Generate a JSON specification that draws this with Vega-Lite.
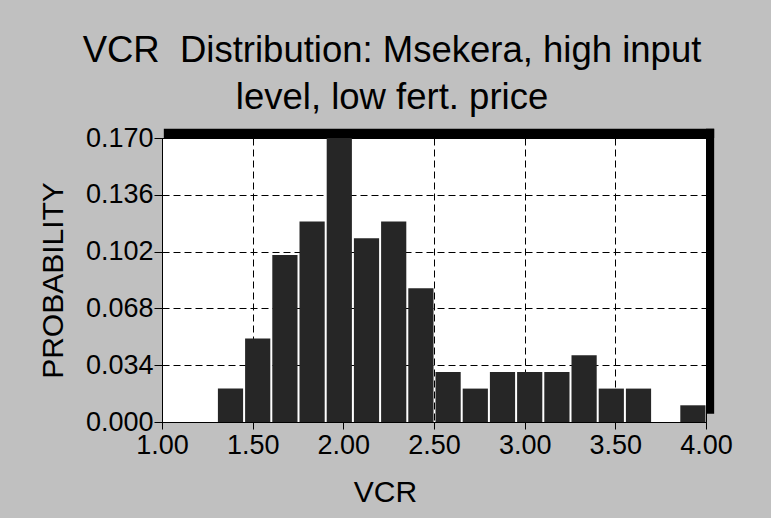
{
  "$schema": "https://vega.github.io/schema/vega-lite/v6.json",
  "autosize": {"type": "none"},
  "width": 544,
  "height": 284,
  "padding": {"left": 162, "top": 138, "right": 65, "bottom": 96},
  "background": "#c0c0c0",
  "title": {
    "text": ["VCR \u00a0Distribution: Msekera, high input", "level, low fert. price"],
    "font": "Liberation Sans",
    "fontSize": 36.5,
    "fontWeight": "normal",
    "color": "#000000",
    "anchor": "middle",
    "dx": -42,
    "lineHeight": 47,
    "baseline": "bottom",
    "offset": -29
  },
  "config": {
    "view": {"fill": "white", "stroke": "#000000", "strokeWidth": 1},
    "bar": {"binSpacing": 2},
    "axis": {
      "labelFont": "Liberation Sans",
      "titleFont": "Liberation Sans",
      "labelColor": "#000000",
      "titleColor": "#000000",
      "labelFontSize": 27,
      "titleFontSize": 30,
      "titleFontWeight": "normal",
      "domainColor": "#000000",
      "tickColor": "#000000",
      "gridColor": "#000000",
      "gridOpacity": 1,
      "gridDash": [7, 4],
      "zindex": 1
    }
  },
  "layer": [
    {
      "data": {
        "values": [
          {"lo": 1.30, "hi": 1.45, "p": 0.02},
          {"lo": 1.45, "hi": 1.60, "p": 0.05},
          {"lo": 1.60, "hi": 1.75, "p": 0.10},
          {"lo": 1.75, "hi": 1.90, "p": 0.12},
          {"lo": 1.90, "hi": 2.05, "p": 0.17},
          {"lo": 2.05, "hi": 2.20, "p": 0.11},
          {"lo": 2.20, "hi": 2.35, "p": 0.12},
          {"lo": 2.35, "hi": 2.50, "p": 0.08},
          {"lo": 2.50, "hi": 2.65, "p": 0.03},
          {"lo": 2.65, "hi": 2.80, "p": 0.02},
          {"lo": 2.80, "hi": 2.95, "p": 0.03},
          {"lo": 2.95, "hi": 3.10, "p": 0.03},
          {"lo": 3.10, "hi": 3.25, "p": 0.03},
          {"lo": 3.25, "hi": 3.40, "p": 0.04},
          {"lo": 3.40, "hi": 3.55, "p": 0.02},
          {"lo": 3.55, "hi": 3.70, "p": 0.02},
          {"lo": 3.70, "hi": 3.85, "p": 0.00},
          {"lo": 3.85, "hi": 4.00, "p": 0.01}
        ]
      },
      "mark": {"type": "bar", "color": "#262626"},
      "encoding": {
        "x": {
          "field": "lo",
          "type": "quantitative",
          "bin": {"binned": true, "step": 0.15},
          "scale": {"domain": [1, 4], "nice": false, "zero": false},
          "axis": {
            "title": "VCR",
            "grid": true,
            "values": [1, 1.5, 2, 2.5, 3, 3.5, 4],
            "format": ".2f",
            "tickSize": 7,
            "labelPadding": 3,
            "labelFlush": false,
            "labelOverlap": false,
            "titleX": 223,
            "titleY": 79,
            "titleAlign": "center",
            "titleBaseline": "alphabetic"
          }
        },
        "x2": {"field": "hi"},
        "y": {
          "field": "p",
          "type": "quantitative",
          "scale": {"domain": [0, 0.17], "nice": false},
          "axis": {
            "title": "PROBABILITY",
            "grid": true,
            "values": [0, 0.034, 0.068, 0.102, 0.136, 0.17],
            "format": ".3f",
            "tickSize": 8,
            "labelPadding": 1,
            "labelFlush": false,
            "labelOverlap": false,
            "titleX": -100,
            "titleY": 142,
            "titleAngle": -90,
            "titleAlign": "center",
            "titleBaseline": "alphabetic"
          }
        }
      }
    },
    {
      "data": {"values": [{}]},
      "mark": {"type": "rect", "color": "#000000", "clip": false},
      "encoding": {
        "x": {"datum": 1.01, "type": "quantitative"},
        "x2": {"datum": 4.045},
        "y": {"datum": 0.17, "type": "quantitative"},
        "y2": {"datum": 0.1755}
      }
    },
    {
      "data": {"values": [{}]},
      "mark": {"type": "rect", "color": "#000000", "clip": false},
      "encoding": {
        "x": {"datum": 4.0, "type": "quantitative"},
        "x2": {"datum": 4.045},
        "y": {"datum": 0.005, "type": "quantitative"},
        "y2": {"datum": 0.1755}
      }
    }
  ]
}
